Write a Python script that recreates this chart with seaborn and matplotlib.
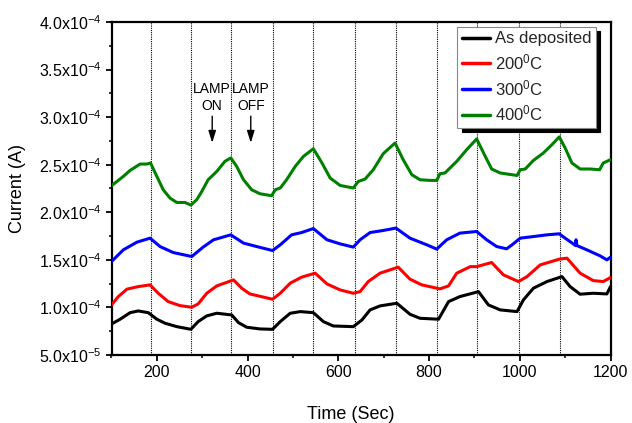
import numpy as np
import pandas as pd
import matplotlib
matplotlib.use("Agg")
import matplotlib.pyplot as plt
from matplotlib.lines import Line2D
from matplotlib.ticker import MultipleLocator, FuncFormatter
import seaborn as sns

# Photocurrent transients, current in units of 1e-4 A
t_asdep = [100, 119, 141, 159, 181, 200, 218, 244, 275, 291, 310, 332, 365, 380, 398, 427,
           455, 472, 494, 516, 545, 567, 589, 633, 652, 670, 692, 729, 758, 780, 821, 843,
           868, 909, 931, 957, 994, 1008, 1030, 1060, 1093, 1111, 1133, 1162, 1192, 1200]
i_asdep = [0.826, 0.876, 0.945, 0.963, 0.945, 0.876, 0.834, 0.798, 0.770, 0.851, 0.911, 0.939,
           0.921, 0.840, 0.792, 0.774, 0.770, 0.851, 0.939, 0.956, 0.945, 0.851, 0.805, 0.798,
           0.868, 0.974, 1.016, 1.044, 0.928, 0.886, 0.876, 1.061, 1.114, 1.166, 1.026, 0.974,
           0.956, 1.079, 1.202, 1.272, 1.324, 1.219, 1.139, 1.149, 1.142, 1.219]

t_200 = [100, 115, 134, 159, 185, 203, 225, 251, 277, 291, 310, 332, 369, 387, 405, 455, 472,
         494, 519, 549, 575, 604, 633, 648, 666, 692, 732, 758, 784, 824, 843, 861, 891, 905,
         938, 964, 997, 1016, 1045, 1087, 1104, 1133, 1162, 1184, 1200]
i_200 = [1.026, 1.114, 1.192, 1.219, 1.237, 1.149, 1.061, 1.019, 1.002, 1.037, 1.149, 1.226,
         1.289, 1.202, 1.142, 1.086, 1.149, 1.255, 1.318, 1.360, 1.247, 1.184, 1.149, 1.166,
         1.272, 1.360, 1.423, 1.297, 1.237, 1.195, 1.226, 1.360, 1.429, 1.429, 1.472, 1.342,
         1.272, 1.324, 1.447, 1.507, 1.518, 1.360, 1.282, 1.272, 1.314]

t_300 = [100, 126, 156, 185, 207, 236, 277, 302, 325, 363, 391, 420, 455, 472, 497, 519, 545,
         575, 604, 633, 648, 670, 699, 727, 758, 795, 817, 839, 868, 905, 927, 949, 971, 983,
         1001, 1030, 1060, 1087, 1100, 1118, 1123, 1124, 1126, 1148, 1177, 1192, 1200]
i_300 = [1.482, 1.605, 1.686, 1.728, 1.640, 1.577, 1.535, 1.634, 1.711, 1.763, 1.676, 1.640,
         1.598, 1.658, 1.763, 1.787, 1.829, 1.711, 1.668, 1.634, 1.711, 1.787, 1.809, 1.834,
         1.728, 1.658, 1.613, 1.711, 1.781, 1.798, 1.711, 1.640, 1.616, 1.658, 1.728, 1.745,
         1.763, 1.774, 1.728, 1.668, 1.650, 1.711, 1.650, 1.605, 1.542, 1.500, 1.528]

t_400 = [100, 112, 126, 141, 163, 178, 186, 200, 214, 229, 244, 262, 275, 288, 299, 313, 332,
         350, 363, 376, 391, 409, 427, 453, 461, 472, 486, 505, 523, 545, 564, 582, 604, 633,
         644, 659, 677, 699, 725, 743, 762, 780, 802, 817, 824, 835, 861, 883, 905, 924, 938,
         957, 994, 1001, 1012, 1030, 1052, 1071, 1087, 1100, 1115, 1133, 1155, 1176, 1184,
         1200]
i_400 = [2.279, 2.324, 2.377, 2.440, 2.507, 2.507, 2.518, 2.377, 2.237, 2.149, 2.103, 2.103,
         2.076, 2.132, 2.219, 2.342, 2.429, 2.535, 2.571, 2.482, 2.342, 2.237, 2.195, 2.174,
         2.237, 2.255, 2.342, 2.482, 2.587, 2.668, 2.518, 2.360, 2.282, 2.255, 2.324, 2.349,
         2.447, 2.616, 2.728, 2.553, 2.395, 2.342, 2.335, 2.335, 2.405, 2.413, 2.535, 2.658,
         2.771, 2.587, 2.455, 2.413, 2.387, 2.447, 2.455, 2.545, 2.623, 2.711, 2.792, 2.676,
         2.518, 2.455, 2.455, 2.447, 2.518, 2.553]

labels = ["As deposited", "200$^{0}$C", "300$^{0}$C", "400$^{0}$C"]
colors = ["black", "#ff0000", "#0000ff", "#008000"]

# Lamp switching instants (alternating on/off)
switch_times = [186, 276, 364, 456, 544, 636, 727, 818, 906, 998, 1089]

sns.set_theme(style="white")
plt.rcParams.update({
    "font.family": ["Liberation Sans", "DejaVu Sans"],
    "mathtext.fontset": "custom",
    "mathtext.rm": "Liberation Sans",
    "mathtext.it": "Liberation Sans:italic",
    "mathtext.bf": "Liberation Sans:bold",
    "mathtext.default": "regular",
})

series = [(labels[0], t_asdep, i_asdep), (labels[1], t_200, i_200),
          (labels[2], t_300, i_300), (labels[3], t_400, i_400)]
df = pd.concat([
    pd.DataFrame({"time": t, "current": np.asarray(v) * 1e-4, "sample": name})
    for name, t, v in series
], ignore_index=True)

fig = plt.figure(figsize=(6.32, 4.23), dpi=100)
ax = fig.add_axes([111.5 / 632, 1 - 355 / 423, 499 / 632, 333 / 423])

for ts in switch_times:
    ax.axvline(ts, color="black", lw=0.8, ls=(0, (1, 1)), zorder=1)

sns.lineplot(data=df, x="time", y="current", hue="sample", hue_order=labels,
             palette=dict(zip(labels, colors)), estimator=None, sort=False,
             lw=2.2, ax=ax, legend=False, zorder=3,
             solid_joinstyle="round", solid_capstyle="round")

ax.set_xlim(100, 1200)
ax.set_ylim(5e-5, 4e-4)
ax.xaxis.set_major_locator(MultipleLocator(200))
ax.xaxis.set_minor_locator(MultipleLocator(100))
ax.yaxis.set_major_locator(MultipleLocator(5e-5))
ax.yaxis.set_minor_locator(MultipleLocator(2.5e-5))


def sci_label(v, pos):
    m, e = f"{v:.1e}".split("e")
    return f"{m}x10$^{{{int(e)}}}$"


ax.yaxis.set_major_formatter(FuncFormatter(sci_label))

ax.tick_params(axis="both", which="major", direction="out", length=4.5, width=1.3,
               labelsize=11.5, bottom=True, left=True, top=False, right=False,
               color="black", labelcolor="black", pad=3)
ax.tick_params(axis="both", which="minor", direction="out", length=2.5, width=1.1,
               bottom=True, left=True, top=False, right=False, color="black")
for s in ax.spines.values():
    s.set_linewidth(1.6)
    s.set_color("black")

ax.set_xlabel("Time (Sec)", fontsize=13, color="black")
ax.set_ylabel("Current (A)", fontsize=13, color="black")
ax.xaxis.set_label_coords(0.48, -0.153)
ax.yaxis.set_label_coords(-0.171, 0.5)

# Lamp on/off markers
for xpos, txt in [(322, "LAMP\nON"), (407, "LAMP\nOFF")]:
    ax.text(xpos, 3.21e-4, txt, ha="center", va="center", fontsize=10,
            linespacing=1.3, color="black", zorder=4)
    ax.annotate("", xy=(xpos, 2.73e-4), xytext=(xpos, 3.01e-4),
                arrowprops=dict(arrowstyle="-|>,head_length=0.8,head_width=0.25",
                                color="black", lw=1.0, mutation_scale=9,
                                shrinkA=0, shrinkB=0), zorder=4)

handles = [Line2D([], [], color=c, lw=2.5) for c in colors]
leg = ax.legend(handles, labels, loc="upper right", bbox_to_anchor=(0.970, 0.984),
                borderaxespad=0, frameon=True, fancybox=False, framealpha=1,
                shadow={"color": "black", "alpha": 1, "ox": 3, "oy": -3},
                edgecolor="#888888", fontsize=12, handlelength=1.7,
                handletextpad=0.3, labelspacing=0.35, borderpad=0.25)
leg.get_frame().set_linewidth(0.8)
leg.set_zorder(5)

fig.savefig("out.png", dpi=100)
